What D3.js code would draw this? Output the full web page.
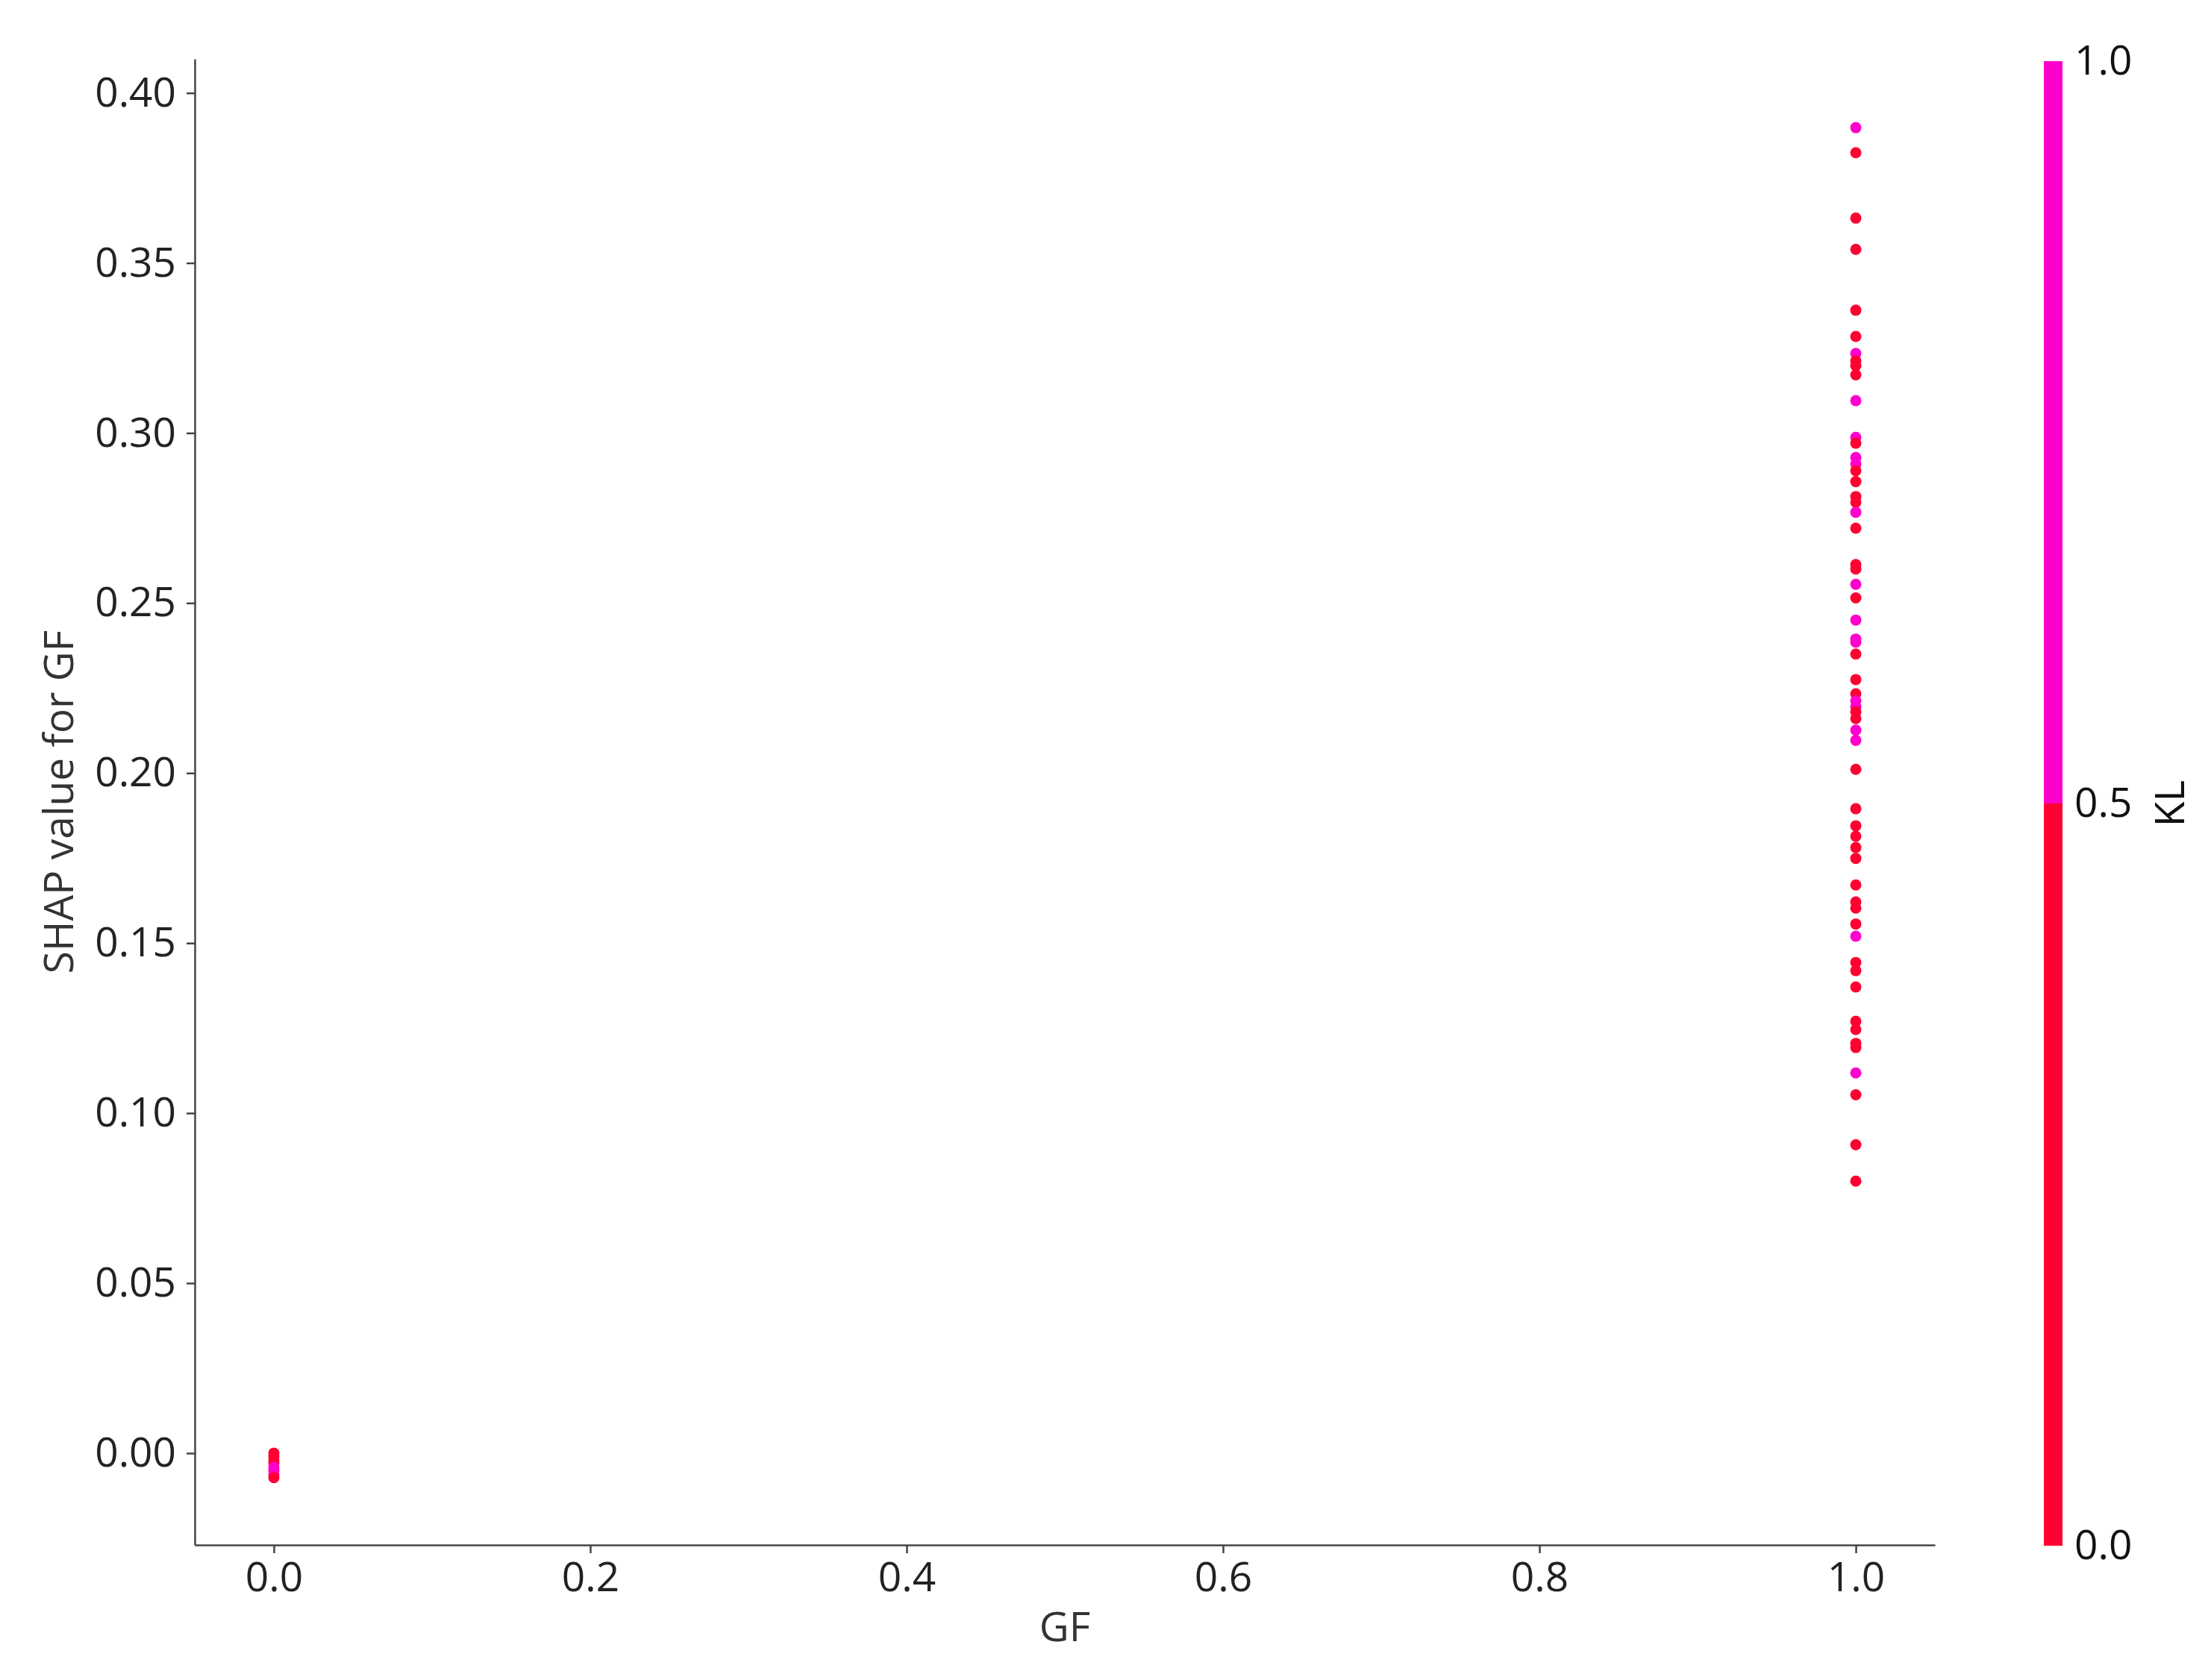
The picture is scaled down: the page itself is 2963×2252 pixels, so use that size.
<!DOCTYPE html>
<html>
<head>
<meta charset="utf-8">
<script src="https://cdn.jsdelivr.net/npm/d3@7"></script>
<style>
  body { margin: 0; background: #fff; }
  text { font-family: "Open Sans", "DejaVu Sans", sans-serif; }
</style>
</head>
<body>
<div id="chart"></div>
<script>
// SHAP values for GF = 1, with the KL value (0 or 1) for each point
const shapAtOne = [
  0.3898, 0.3824, 0.3632, 0.3540, 0.3361, 0.3284, 0.3234, 0.3212, 0.3198, 0.3171,
  0.3095, 0.2987, 0.2970, 0.2928, 0.2909, 0.2889, 0.2857, 0.2813, 0.2796, 0.2767,
  0.2720, 0.2613, 0.2600, 0.2555, 0.2515, 0.2450, 0.2394, 0.2385, 0.2350, 0.2275,
  0.2233, 0.2212, 0.2195, 0.2180, 0.2160, 0.2126, 0.2096, 0.2011, 0.1895, 0.1845,
  0.1814, 0.1781, 0.1749, 0.1671, 0.1621, 0.1603, 0.1556, 0.1520, 0.1443, 0.1419,
  0.1371, 0.1270, 0.1246, 0.1205, 0.1193, 0.1118, 0.1054, 0.0907, 0.0800
];
const klAtOne = [
  1, 0, 0, 0, 0, 0, 1, 0, 0, 0,
  1, 1, 0, 1, 1, 0, 0, 0, 0, 1,
  0, 0, 0, 1, 0, 1, 1, 1, 0, 0,
  0, 1, 1, 0, 0, 1, 1, 0, 0, 0,
  0, 0, 0, 0, 0, 0, 0, 1, 0, 0,
  0, 0, 0, 0, 0, 1, 0, 0, 0
];
// SHAP values for GF = 0 (drawn in this order)
const shapAtZero = [-0.0010, -0.0020, -0.0030, -0.0050, -0.0042, -0.0062, 0.0000, -0.0072];
const klAtZero = [0, 0, 0, 0, 1, 1, 0, 0];

const xTicks = [0.0, 0.2, 0.4, 0.6, 0.8, 1.0];
const yTicks = [0.00, 0.05, 0.10, 0.15, 0.20, 0.25, 0.30, 0.35, 0.40];
const kTicks = [0.0, 0.5, 1.0];

const width = 2963;
const height = 2252;
const plot = { left: 261, right: 2593, top: 79, bottom: 2071 };
const bar = { x: 2739, w: 25, top: 82, bottom: 2072 };

const points = shapAtZero.map((v, i) => ({ gf: 0, shap: v, kl: klAtZero[i] }))
  .concat(shapAtOne.map((v, i) => ({ gf: 1, shap: v, kl: klAtOne[i] })));

const svg = d3.select("#chart")
  .append("svg")
  .attr("width", width)
  .attr("height", height);

svg.append("rect").attr("width", width).attr("height", height).attr("fill", "#fff");

const x = d3.scaleLinear().domain([-0.05, 1.05]).range([plot.left, plot.right]);
const y = d3.scaleLinear().domain([-0.027, 0.41]).range([plot.bottom, plot.top]);
const color = d3.scaleQuantize().domain([0, 1]).range(["#ff0030", "#ff00cc"]);

svg.append("g")
  .selectAll("circle")
  .data(points)
  .enter()
  .append("circle")
  .attr("cx", (d) => x(d.gf))
  .attr("cy", (d) => y(d.shap))
  .attr("r", 7.5)
  .style("fill", (d) => color(d.kl));

const xAxis = svg.append("g")
  .attr("transform", `translate(0,${plot.bottom})`)
  .call(d3.axisBottom(x).tickValues(xTicks).tickFormat(d3.format(".1f")).tickSize(11).tickPadding(12).tickSizeOuter(0));

const yAxis = svg.append("g")
  .attr("transform", `translate(${plot.left},0)`)
  .call(d3.axisLeft(y).tickValues(yTicks).tickFormat(d3.format(".2f")).tickSize(11).tickPadding(14).tickSizeOuter(0));

[xAxis, yAxis].forEach((g) => {
  g.select(".domain").attr("stroke", "#444").attr("stroke-width", 2.5);
  g.selectAll(".tick line").attr("stroke", "#444").attr("stroke-width", 2.5);
  g.selectAll(".tick text").attr("fill", "#222").style("font-size", "55px");
});

svg.append("text")
  .attr("x", (plot.left + plot.right) / 2)
  .attr("y", 2200)
  .attr("text-anchor", "middle")
  .style("font-size", "55px")
  .attr("fill", "#333")
  .text("GF");

svg.append("text")
  .attr("transform", `translate(98,${(plot.top + plot.bottom) / 2}) rotate(-90)`)
  .attr("text-anchor", "middle")
  .style("font-size", "55px")
  .attr("fill", "#333")
  .text("SHAP value for GF");

// colour bar
const k = d3.scaleLinear().domain([0, 1]).range([bar.bottom, bar.top]);
const segs = [[0, 0.5], [0.5, 1]];
svg.append("g")
  .selectAll("rect")
  .data(segs)
  .enter()
  .append("rect")
  .attr("x", bar.x)
  .attr("width", bar.w)
  .attr("y", (d) => k(d[1]))
  .attr("height", (d) => k(d[0]) - k(d[1]))
  .style("fill", (d) => color((d[0] + d[1]) / 2));

const kAxis = svg.append("g")
  .attr("transform", `translate(${bar.x + bar.w},0)`)
  .call(d3.axisRight(k).tickValues(kTicks).tickFormat(d3.format(".1f")).tickSize(0).tickPadding(16));
kAxis.select(".domain").remove();
kAxis.selectAll(".tick text").attr("fill", "#111").style("font-size", "55px");

svg.append("text")
  .attr("transform", `translate(2905,${(bar.top + bar.bottom) / 2}) rotate(-90)`)
  .attr("text-anchor", "middle")
  .attr("dominant-baseline", "central")
  .style("font-size", "55px")
  .attr("fill", "#111")
  .text("KL");
</script>
</body>
</html>
